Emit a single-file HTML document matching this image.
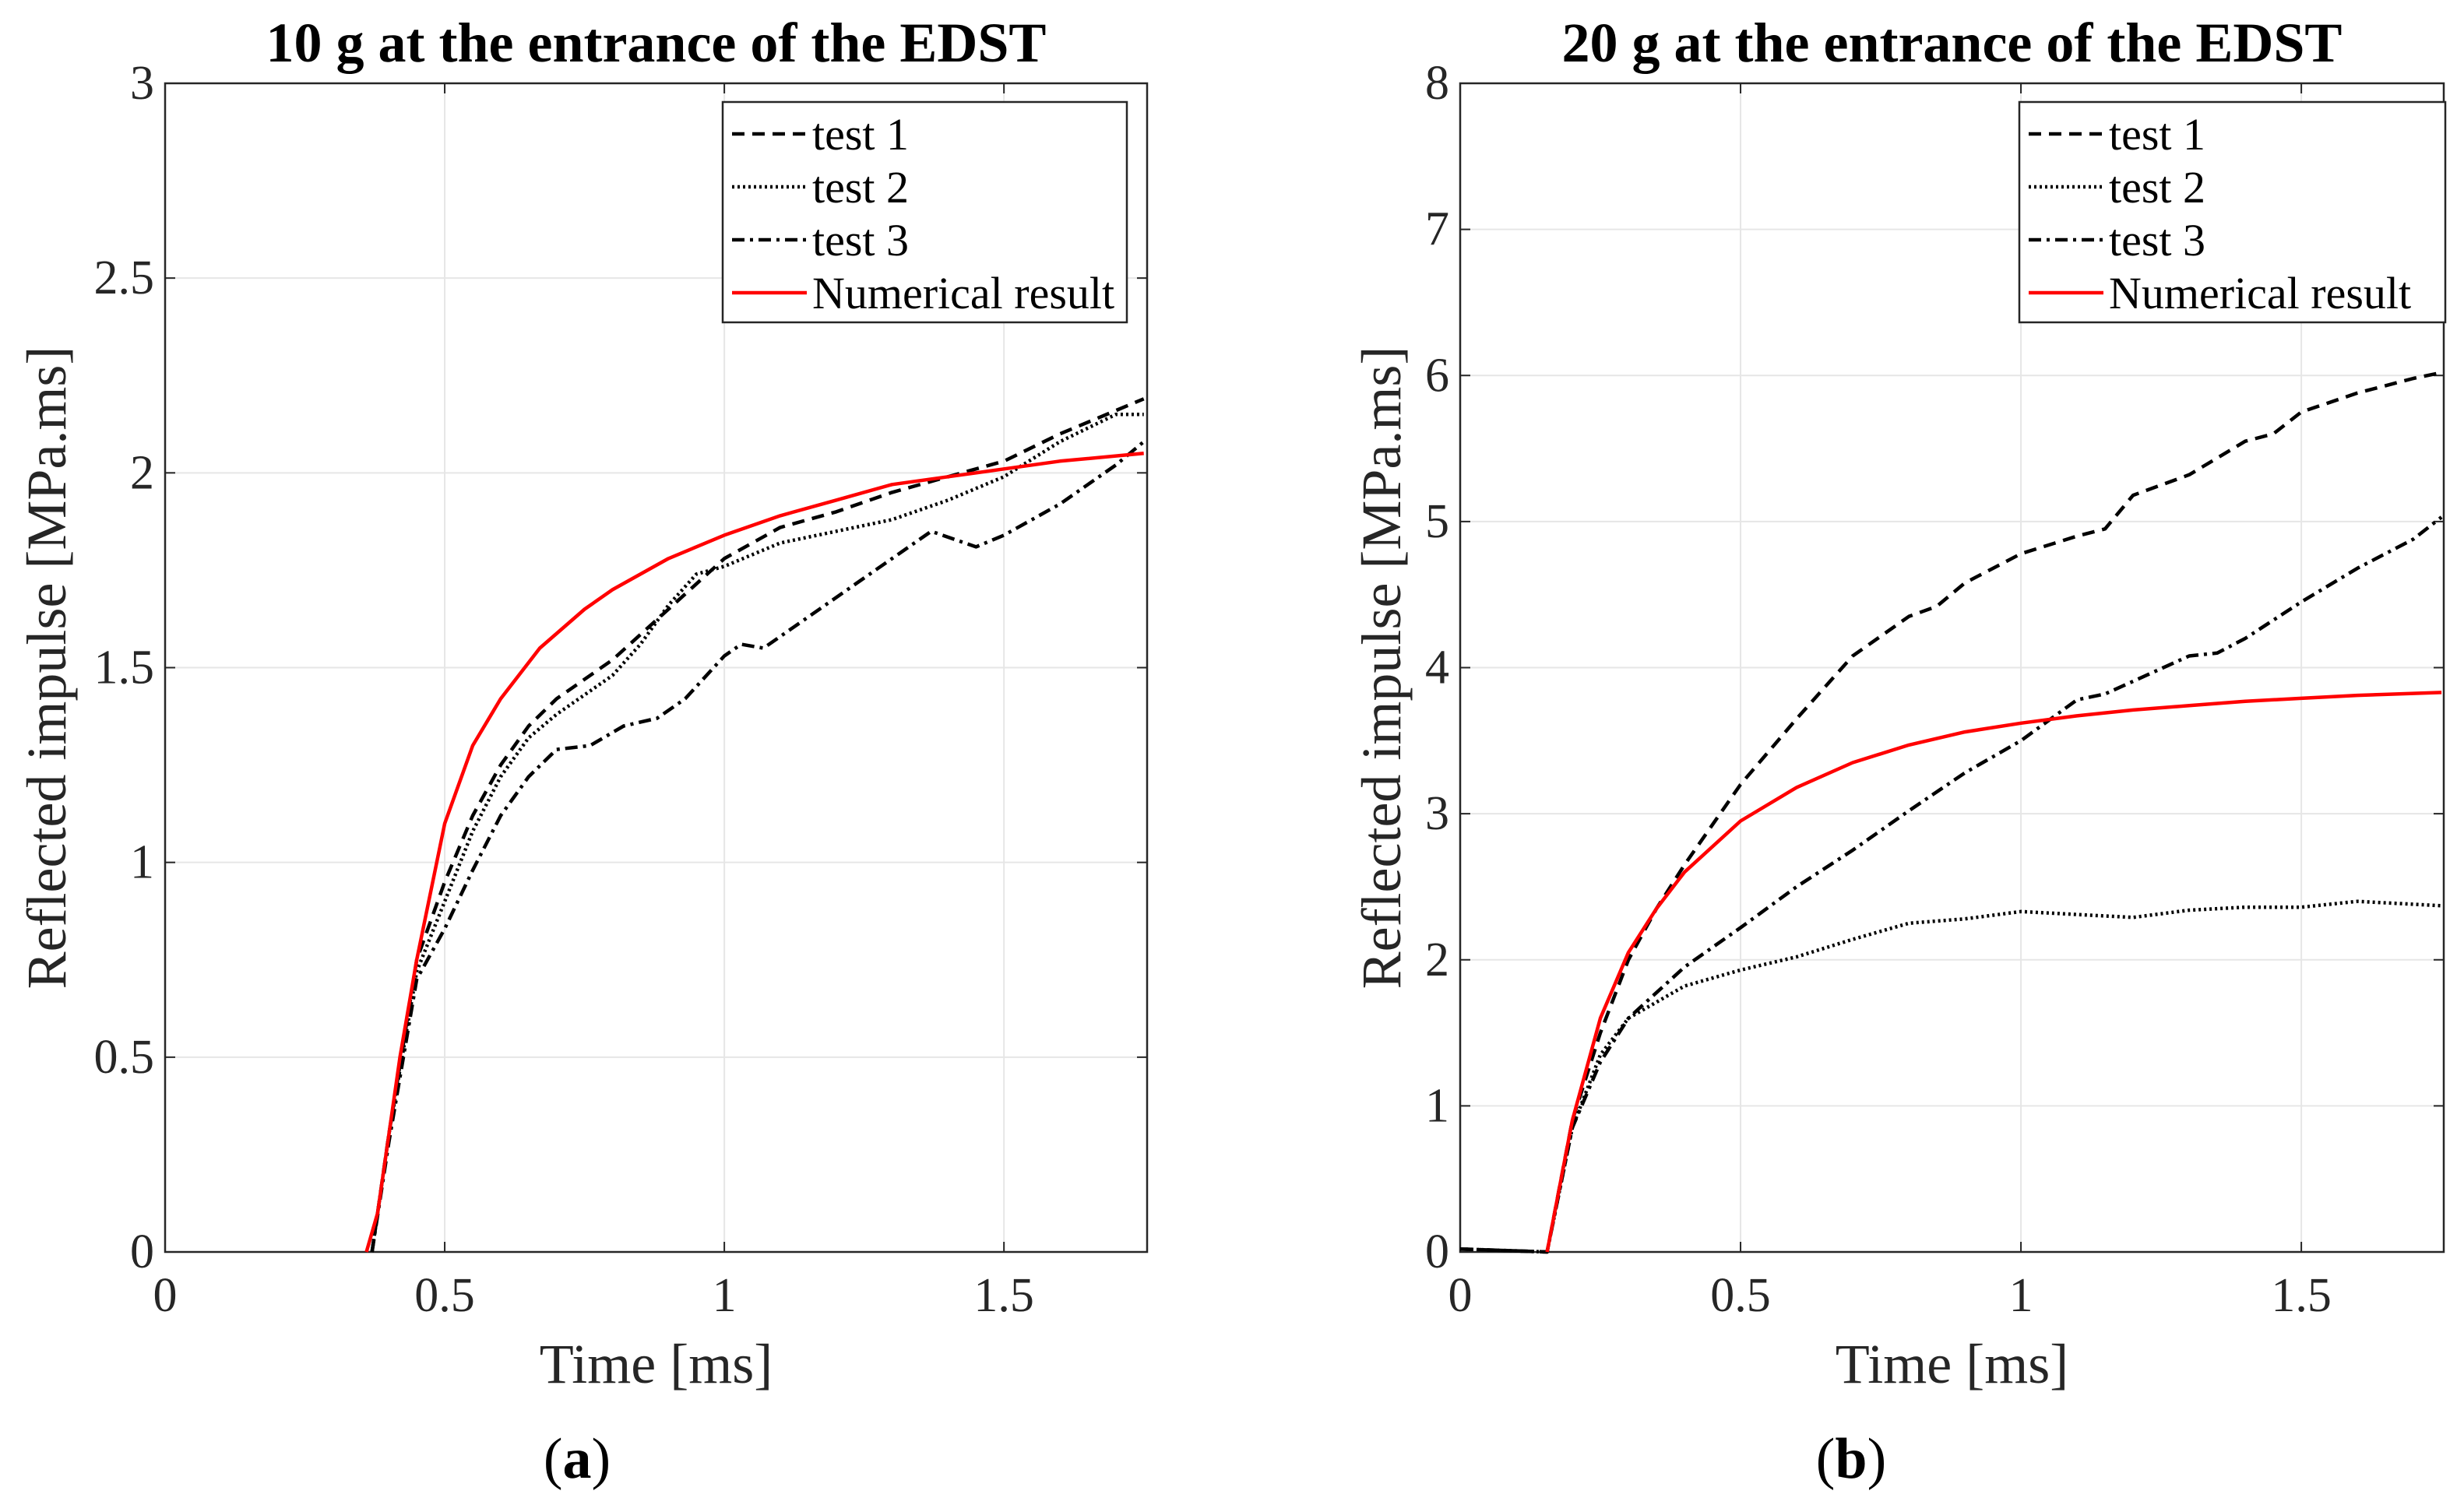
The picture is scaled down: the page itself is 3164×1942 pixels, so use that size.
<!DOCTYPE html>
<html><head><meta charset="utf-8"><style>
html,body{margin:0;padding:0;background:#fff;}
svg{display:block;font-family:"Liberation Serif",serif;}
</style></head><body>
<svg id="fig" width="3164" height="1942" viewBox="0 0 3164 1942" xmlns="http://www.w3.org/2000/svg"></svg>
<script>
// Panel (a) data
const aNumX=[0.36,0.38,0.42,0.45,0.5,0.55,0.6,0.67,0.75,0.8,0.9,1.0,1.1,1.2,1.3,1.4,1.5,1.6,1.75];
const aNumY=[0,0.1,0.5,0.75,1.1,1.3,1.42,1.55,1.65,1.7,1.78,1.84,1.89,1.93,1.97,1.99,2.01,2.03,2.05];
const aT1X=[0.37,0.4,0.45,0.5,0.55,0.6,0.65,0.7,0.8,0.9,1.0,1.1,1.2,1.3,1.4,1.5,1.6,1.7,1.75];
const aT1Y=[0,0.3,0.75,0.95,1.12,1.25,1.35,1.42,1.52,1.65,1.78,1.86,1.9,1.95,1.99,2.03,2.1,2.16,2.19];
const aT2X=[0.37,0.4,0.45,0.5,0.55,0.6,0.65,0.7,0.8,0.85,0.9,0.95,1.0,1.1,1.2,1.3,1.4,1.5,1.6,1.7,1.75];
const aT2Y=[0,0.3,0.72,0.9,1.08,1.22,1.32,1.38,1.48,1.56,1.66,1.74,1.76,1.82,1.85,1.88,1.93,1.99,2.08,2.15,2.15];
const aT3X=[0.37,0.4,0.45,0.5,0.55,0.6,0.65,0.7,0.76,0.82,0.88,0.93,1.0,1.03,1.07,1.15,1.25,1.3,1.37,1.45,1.5,1.6,1.7,1.75];
const aT3Y=[0,0.28,0.7,0.83,0.98,1.12,1.22,1.29,1.3,1.35,1.37,1.42,1.53,1.56,1.55,1.63,1.73,1.78,1.85,1.81,1.84,1.92,2.02,2.08];
// Panel (b) data
const bNumX=[0.155,0.2,0.25,0.3,0.35,0.4,0.5,0.6,0.7,0.8,0.9,1.0,1.1,1.2,1.3,1.4,1.5,1.6,1.75];
const bNumY=[0,0.9,1.6,2.05,2.35,2.6,2.95,3.18,3.35,3.47,3.56,3.62,3.67,3.71,3.74,3.77,3.79,3.81,3.83];
const bT1X=[0,0.155,0.2,0.25,0.3,0.35,0.4,0.5,0.6,0.7,0.8,0.85,0.9,1.0,1.1,1.15,1.2,1.3,1.4,1.45,1.5,1.6,1.7,1.75];
const bT1Y=[0.02,0,0.9,1.5,2.0,2.35,2.65,3.2,3.65,4.08,4.35,4.42,4.58,4.78,4.9,4.95,5.18,5.32,5.55,5.6,5.75,5.88,5.98,6.02];
const bT2X=[0,0.155,0.2,0.25,0.3,0.4,0.5,0.6,0.7,0.8,0.9,1.0,1.1,1.2,1.3,1.4,1.5,1.6,1.75];
const bT2Y=[0.02,0,0.85,1.35,1.6,1.82,1.93,2.02,2.14,2.25,2.28,2.33,2.31,2.29,2.34,2.36,2.36,2.4,2.37];
const bT3X=[0,0.155,0.2,0.25,0.3,0.4,0.5,0.6,0.7,0.8,0.9,1.0,1.1,1.15,1.3,1.35,1.4,1.5,1.6,1.7,1.75];
const bT3Y=[0.02,0,0.85,1.3,1.6,1.95,2.22,2.5,2.75,3.02,3.28,3.5,3.78,3.82,4.08,4.1,4.2,4.45,4.68,4.88,5.03];
const xTicks=[0,0.5,1,1.5];
const aYTicks=[0,0.5,1,1.5,2,2.5,3];
const bYTicks=[0,1,2,3,4,5,6,7,8];
const legendLabels=["test 1","test 2","test 3","Numerical result"];

const NS="http://www.w3.org/2000/svg";
const svg=document.getElementById('fig');
function mk(tag,attrs,parent,text){const e=document.createElementNS(NS,tag);for(const k in attrs)e.setAttribute(k,attrs[k]);if(text!==undefined)e.textContent=text;(parent||svg).appendChild(e);return e;}
const styles=[{stroke:"#000",dash:"16 10"},{stroke:"#000",dash:"3 4"},{stroke:"#000",dash:"16 7 4 7"},{stroke:"#ff0000",dash:""}];

function panel(o){
  const g=mk('g',{});
  
  
  const L=o.L,R=o.R,T=o.T,B=o.B;
  const sx=v=>L+(v-0)/(o.xmax)*(R-L);
  const sy=v=>B-(v/o.ymax)*(B-T);
  xTicks.forEach(t=>{if(t>0){const l=mk('line',{x1:sx(t),x2:sx(t),y1:T,y2:B,stroke:'#e6e6e6','stroke-width':2},g);}});
  o.yTicks.forEach(t=>{if(t>0&&t<o.ymax){const l=mk('line',{x1:L,x2:R,y1:sy(t),y2:sy(t),stroke:'#e6e6e6','stroke-width':2},g);}});
  const box=mk('rect',{x:L,y:T,width:R-L,height:B-T,fill:'none',stroke:'#262626','stroke-width':2.5},g);
  
  xTicks.forEach(t=>{
    mk('line',{x1:sx(t),x2:sx(t),y1:B,y2:B-13,stroke:'#262626','stroke-width':2},g);
    mk('line',{x1:sx(t),x2:sx(t),y1:T,y2:T+13,stroke:'#262626','stroke-width':2},g);
    const tx=mk('text',{x:sx(t),y:B+76,'text-anchor':'middle','font-size':62,fill:'#262626'},g,String(t));
    
  });
  o.yTicks.forEach(t=>{
    mk('line',{x1:L,x2:L+13,y1:sy(t),y2:sy(t),stroke:'#262626','stroke-width':2},g);
    mk('line',{x1:R,x2:R-13,y1:sy(t),y2:sy(t),stroke:'#262626','stroke-width':2},g);
    const ty=mk('text',{x:L-14,y:sy(t)+20,'text-anchor':'end','font-size':62,fill:'#262626'},g,String(t));
    
  });
  o.series.forEach((s,i)=>{
    const d=s[0].map((x,j)=>(j?'L':'M')+sx(x).toFixed(1)+','+sy(s[1][j]).toFixed(1)).join(' ');
    const p=mk('path',{d:d,fill:'none',stroke:styles[i].stroke,'stroke-width':4.5,'stroke-dasharray':styles[i].dash,'stroke-linejoin':'round'},g);
    
    
  });
  const ti=mk('text',{x:(L+R)/2,y:T-28,'text-anchor':'middle','font-size':72,'font-weight':'bold',fill:'#000'},g,o.title);
  
  const xl=mk('text',{x:(L+R)/2,y:B+168,'text-anchor':'middle','font-size':72,fill:'#262626'},g,'Time [ms]');
  
  const yl=mk('text',{x:0,y:0,'text-anchor':'middle','font-size':72,fill:'#262626',transform:`translate(${o.ylx},${(T+B)/2}) rotate(-90)`},g,'Reflected impulse [MPa.ms]');
  
  const lg=mk('g',{},g);
  
  mk('rect',{x:o.lgx,y:131,width:o.lgw,height:283,fill:'#fff',stroke:'#262626','stroke-width':2.5},lg);
  legendLabels.forEach((lab,i)=>{
    const y=172+i*68;
    const e=mk('g',{},lg);
    
    mk('line',{x1:o.lgx+12,x2:o.lgx+108,y1:y,y2:y,stroke:styles[i].stroke,'stroke-width':4.5,'stroke-dasharray':styles[i].dash},e);
    mk('text',{x:o.lgx+115,y:y+20,'font-size':58,fill:'#000'},e,lab);
  });
  const cap=mk('text',{x:o.capx,y:1898,'text-anchor':'middle','font-size':74,fill:'#000'},g);
  
  mk('tspan',{},cap,'(');mk('tspan',{'font-weight':'bold'},cap,o.cap);mk('tspan',{},cap,')');
}
panel({name:'panel-a',L:212,R:1473,T:107,B:1608,xmax:1.756,ymax:3,yTicks:aYTicks,title:'10 g at the entrance of the EDST',ylx:84,lgx:928,lgw:519,capx:741,cap:'a',
  series:[[aT1X,aT1Y],[aT2X,aT2Y],[aT3X,aT3Y],[aNumX,aNumY]]});
panel({name:'panel-b',L:1875,R:3138,T:107,B:1608,xmax:1.754,ymax:8,yTicks:bYTicks,title:'20 g at the entrance of the EDST',ylx:1798,lgx:2593,lgw:547,capx:2377,cap:'b',
  series:[[bT1X,bT1Y],[bT2X,bT2Y],[bT3X,bT3Y],[bNumX,bNumY]]});
</script>
</body></html>
